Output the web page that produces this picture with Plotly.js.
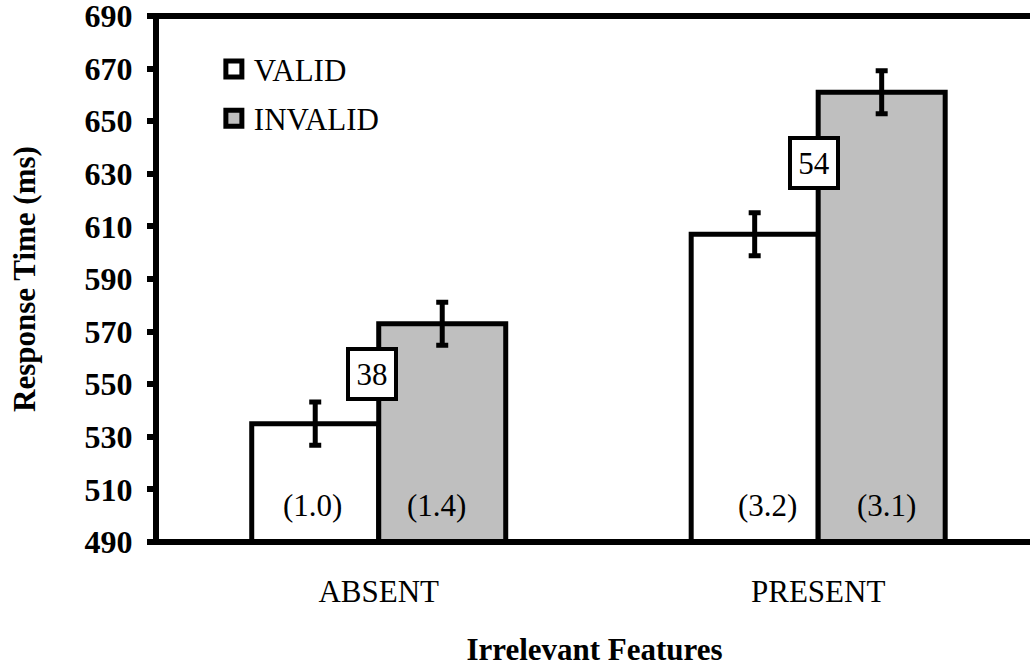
<!DOCTYPE html>
<html>
<head>
<meta charset="utf-8">
<script src="https://cdn.plot.ly/plotly-3.0.1.min.js"></script>
<style>
  html, body { margin: 0; padding: 0; background: #fff; overflow: hidden; }
  #chart { width: 1030px; height: 667px; }
</style>
</head>
<body>
<div id="chart"></div>
<script>
// ---- data ----
const categories = ['ABSENT', 'PRESENT'];
const seriesNames = ['VALID', 'INVALID'];
const validRT = [535, 607];
const invalidRT = [573, 661];
const validErr = [8.2, 8.2];
const invalidErr = [8.2, 8.2];
const validSE = ['(1.0)', '(3.2)'];
const invalidSE = ['(1.4)', '(3.1)'];
const diffLabels = ['38', '54'];
const yTicks = [490, 510, 530, 550, 570, 590, 610, 630, 650, 670, 690];

// ---- style ----
const FONT = '"Liberation Serif", "Times New Roman", serif';
const FS = 31;
const fillColors = ['#ffffff', '#bfbfbf'];
const barHalf = 0.1445;
const seLabelY = 504;
const validSEShift = [-3, 13];
const invalidSEShift = [-6, 5];
const diffShift = [-7, -4];

const traces = [
  {
    type: 'bar', name: seriesNames[0], x: categories, y: validRT, showlegend: false,
    marker: { color: fillColors[0], line: { color: '#000000', width: 5 } },
    error_y: { type: 'data', array: validErr, visible: true, color: '#000000', thickness: 5, width: 6 },
    hoverinfo: 'skip'
  },
  {
    type: 'bar', name: seriesNames[1], x: categories, y: invalidRT, showlegend: false,
    marker: { color: fillColors[1], line: { color: '#000000', width: 5 } },
    error_y: { type: 'data', array: invalidErr, visible: true, color: '#000000', thickness: 5, width: 6 },
    hoverinfo: 'skip'
  }
];
// legend entries (square swatches matching the bar styles)
seriesNames.forEach((nm, k) => {
  traces.push({
    type: 'scatter', mode: 'markers', name: nm, x: [null], y: [null],
    legendgroup: 'g' + k, showlegend: true,
    marker: { symbol: 'square', size: 16, color: fillColors[k], line: { color: '#000', width: 5 } },
    hoverinfo: 'skip'
  });
});

const annotations = [];
categories.forEach((c, i) => {
  annotations.push({
    xref: 'x', yref: 'y', x: i - barHalf, y: seLabelY, text: validSE[i], showarrow: false,
    xshift: validSEShift[i], font: { family: FONT, size: FS, color: '#000' }
  });
  annotations.push({
    xref: 'x', yref: 'y', x: i + barHalf, y: seLabelY, text: invalidSE[i], showarrow: false,
    xshift: invalidSEShift[i], font: { family: FONT, size: FS, color: '#000' }
  });
  annotations.push({
    xref: 'x', yref: 'y', x: i, y: (validRT[i] + invalidRT[i]) / 2, text: diffLabels[i], showarrow: false,
    xshift: diffShift[i], font: { family: FONT, size: FS, color: '#000' },
    bgcolor: '#ffffff', bordercolor: '#000000', borderwidth: 4, borderpad: 3,
    width: 38, height: 40
  });
});

const plotLeft = 159, plotWidth = 1030 - 159;
const lineStartPaper = (147 - plotLeft) / plotWidth;

const layout = {
  width: 1030, height: 667,
  margin: { l: plotLeft, r: 0, t: 16, b: 125, pad: 0 },
  paper_bgcolor: '#ffffff', plot_bgcolor: '#ffffff',
  barmode: 'group', bargap: 0.422, bargroupgap: 0,
  font: { family: FONT, size: FS, color: '#000' },
  xaxis: {
    type: 'category', range: [-0.5, 1.482],
    showline: false, showgrid: false, zeroline: false, ticks: '',
    tickfont: { family: FONT, size: FS, color: '#000' },
    ticklabelstandoff: 28,
    title: { text: 'Irrelevant Features', font: { family: FONT, size: FS, color: '#000', weight: 'bold' }, standoff: 34 }
  },
  yaxis: {
    range: [490, 690], tickvals: yTicks, ticktext: yTicks.map(String),
    showline: true, linewidth: 6, linecolor: '#000',
    ticks: 'outside', ticklen: 6, tickwidth: 6, tickcolor: '#000',
    showgrid: false, zeroline: false, ticklabeloverflow: 'allow',
    ticklabelstandoff: 8,
    tickfont: { family: FONT, size: 32, color: '#000', weight: 'bold' },
    title: { text: 'Response Time (ms)', font: { family: FONT, size: FS, color: '#000', weight: 'bold' }, standoff: 42 }
  },
  showlegend: true,
  legend: {
    x: 0.063, y: 0.95, xanchor: 'left', yanchor: 'top',
    bgcolor: 'rgba(0,0,0,0)', borderwidth: 0,
    font: { family: FONT, size: FS, color: '#000' },
    traceorder: 'grouped', tracegroupgap: 6
  },
  shapes: [
    { type: 'line', xref: 'paper', yref: 'paper', x0: lineStartPaper, x1: 1.01, y0: 0, y1: 0,
      line: { color: '#000', width: 6 }, layer: 'above' },
    { type: 'line', xref: 'paper', yref: 'paper', x0: lineStartPaper, x1: 1.01, y0: 1, y1: 1,
      line: { color: '#000', width: 6 }, layer: 'above' }
  ],
  annotations: annotations
};

Plotly.newPlot('chart', traces, layout, { staticPlot: true, displayModeBar: false });
</script>
</body>
</html>
